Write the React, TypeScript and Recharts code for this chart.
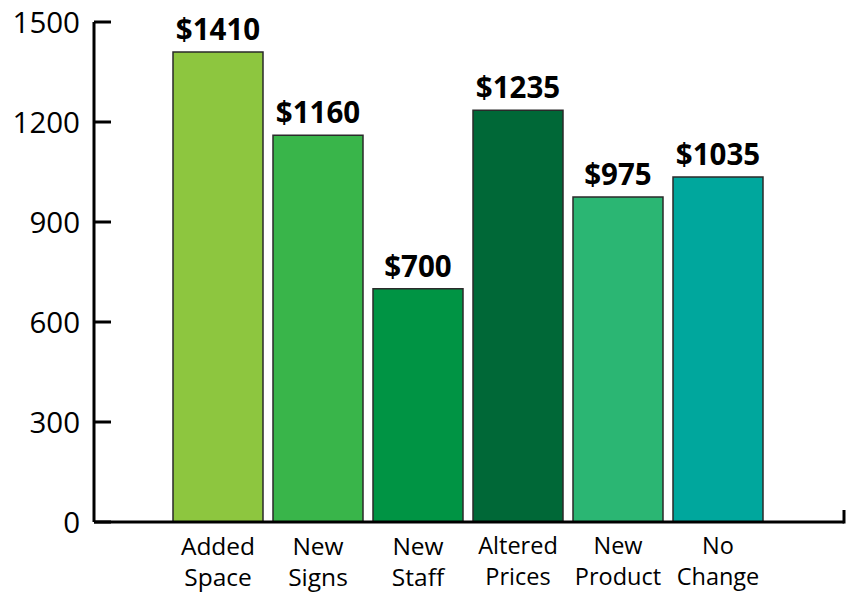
import React from 'react';
import { BarChart, Bar, XAxis, YAxis, LabelList, Cell, usePlotArea } from 'recharts';

const categories = ['Added Space', 'New Signs', 'New Staff', 'Altered Prices', 'New Product', 'No Change'];
const values = [1410, 1160, 700, 1235, 975, 1035];
const colors = ['#8DC63F', '#39B54A', '#009444', '#006837', '#2BB673', '#00A79D'];
const yTicks = [0, 300, 600, 900, 1200, 1500];

const data = categories.map((name, i) => ({ name, value: values[i] }));

const FONT = '"Open Sans", "Noto Sans", sans-serif';

const YTick = (props: any) => {
  const { x, y, payload } = props;
  return (
    <g>
      <line x1={x} x2={x + 17} y1={y} y2={y} stroke="#000" strokeWidth={3} />
      <text x={x - 14} y={y} dy="0.36em" textAnchor="end" fontFamily={FONT} fontSize={29.5} fill="#000">
        {payload.value}
      </text>
    </g>
  );
};

const XTick = (props: any) => {
  const { x, y, payload, index } = props;
  const parts = String(payload.value).split(' ');
  const big = index < 3;
  const fs = big ? 24.5 : 23.5;
  const b1 = big ? 32.5 : 32;
  const lh = big ? 31.5 : 30.5;
  return (
    <text x={x} y={y + b1} textAnchor="middle" fontFamily={FONT} fontSize={fs} fill="#000">
      {parts.map((p, i) => (
        <tspan key={i} x={x} dy={i === 0 ? 0 : lh}>
          {p}
        </tspan>
      ))}
    </text>
  );
};

const EndTick = () => {
  const area = usePlotArea();
  if (!area) return null;
  const xr = area.x + area.width;
  const yb = area.y + area.height;
  return <line x1={xr} x2={xr} y1={yb - 12} y2={yb + 1.5} stroke="#000" strokeWidth={3} />;
};

export default function App() {
  return (
    <div style={{ position: 'absolute', left: 0, top: 0, width: 856, height: 593, background: '#fff' }}>
      <BarChart
        width={856}
        height={593}
        data={data}
        margin={{ top: 22, right: 12, bottom: 0, left: 0 }}
        barCategoryGap="5%"
      >
        <XAxis
          dataKey="name"
          padding={{ left: 74, right: 76 }}
          height={71}
          axisLine={{ stroke: '#000', strokeWidth: 3 }}
          tickLine={false}
          tickSize={0}
          tickMargin={0}
          interval={0}
          tick={<XTick />}
        />
        <YAxis
          domain={[0, 1500]}
          ticks={yTicks}
          width={94}
          axisLine={{ stroke: '#000', strokeWidth: 3 }}
          tickLine={false}
          tickSize={0}
          tickMargin={0}
          tick={<YTick />}
          interval={0}
        />
        <Bar dataKey="value" isAnimationActive={false} stroke="#2a2a2a" strokeWidth={1.5}>
          {data.map((d, i) => (
            <Cell key={d.name} fill={colors[i]} />
          ))}
          <LabelList
            dataKey="value"
            position="top"
            offset={12}
            formatter={(v: any) => `$${v}`}
            style={{ fontFamily: FONT, fontWeight: 700, fontSize: 29.5, fill: '#000' }}
          />
        </Bar>
        <EndTick />
      </BarChart>
    </div>
  );
}
